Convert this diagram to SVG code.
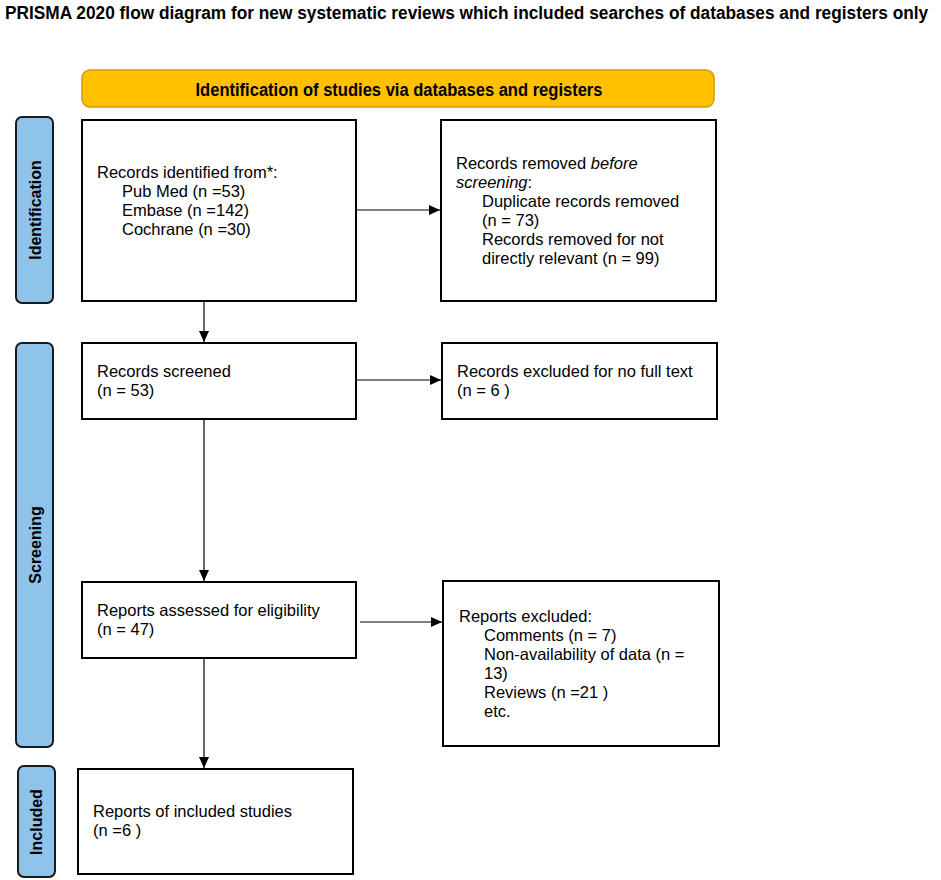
<svg xmlns="http://www.w3.org/2000/svg" width="941" height="880" viewBox="0 0 941 880">
<style>
.box{fill:#fff;stroke:#000;stroke-width:2}
.side{fill:#8FC3EA;stroke:#1a1a1a;stroke-width:2}
.t{font-family:"Liberation Sans",Arial,sans-serif;font-size:16.5px;fill:#000}
.sl{font-family:"Liberation Sans",Arial,sans-serif;font-size:16px;font-weight:bold;fill:#000;text-anchor:middle}
.c{stroke:#000;stroke-width:1.2;fill:none;marker-end:url(#ah)}
</style>
<defs>
<marker id="ah" markerUnits="userSpaceOnUse" markerWidth="12" markerHeight="12" refX="11" refY="5" orient="auto">
<path d="M0,0 L11,5 L0,10 z" fill="#000"/>
</marker>
</defs>
<rect width="941" height="880" fill="#fff"/>
<text id="title" transform="translate(5,19) scale(0.935,1)" x="0" y="0" font-family="Liberation Sans, Arial, sans-serif" font-size="18.5" font-weight="bold">PRISMA 2020 flow diagram for new systematic reviews which included searches of databases and registers only</text>

<g id="banner">
<rect x="82" y="70" width="632" height="37" rx="8" fill="#FFC000" stroke="#D39B00" stroke-width="1.5"/>
<text x="399" y="95.5" font-family="Liberation Sans, Arial, sans-serif" font-size="17.5" font-weight="bold" text-anchor="middle" textLength="407" lengthAdjust="spacingAndGlyphs">Identification of studies via databases and registers</text>
</g>

<g id="lbl-identification">
<rect class="side" x="16" y="117" width="37" height="186" rx="6"/>
<text class="sl" transform="translate(41,210) rotate(-90)">Identification</text>
</g>
<g id="lbl-screening">
<rect class="side" x="16" y="343" width="37" height="404" rx="6"/>
<text class="sl" transform="translate(41,545) rotate(-90)">Screening</text>
</g>
<g id="lbl-included">
<rect class="side" x="18" y="766" width="37" height="111" rx="6"/>
<text class="sl" transform="translate(42,822) rotate(-90)">Included</text>
</g>

<g id="n-identified">
<rect class="box" x="82" y="120" width="274" height="181"/>
<text class="t" x="97" y="178">Records identified from*:</text>
<text class="t" x="122" y="197">Pub Med (n =53)</text>
<text class="t" x="122" y="216">Embase (n =142)</text>
<text class="t" x="122" y="235">Cochrane (n =30)</text>
</g>
<g id="n-removed">
<rect class="box" x="441" y="120" width="275" height="181"/>
<text class="t" x="456" y="169">Records removed <tspan font-style="italic">before</tspan></text>
<text class="t" x="456" y="188"><tspan font-style="italic">screening</tspan>:</text>
<text class="t" x="482" y="207">Duplicate records removed</text>
<text class="t" x="482" y="226">(n = 73)</text>
<text class="t" x="482" y="245">Records removed for not</text>
<text class="t" x="482" y="264">directly relevant (n = 99)</text>
</g>
<g id="n-screened">
<rect class="box" x="82" y="343" width="274" height="76"/>
<text class="t" x="97" y="377">Records screened</text>
<text class="t" x="97" y="396">(n = 53)</text>
</g>
<g id="n-excluded1">
<rect class="box" x="442" y="343" width="275" height="76"/>
<text class="t" x="457" y="377">Records excluded for no full text</text>
<text class="t" x="457" y="396">(n = 6 )</text>
</g>
<g id="n-assessed">
<rect class="box" x="82" y="582" width="274" height="76"/>
<text class="t" x="97" y="616">Reports assessed for eligibility</text>
<text class="t" x="97" y="635">(n = 47)</text>
</g>
<g id="n-excluded2">
<rect class="box" x="443" y="581" width="276" height="165"/>
<text class="t" x="459" y="622">Reports excluded:</text>
<text class="t" x="484" y="641">Comments (n = 7)</text>
<text class="t" x="484" y="660">Non-availability of data (n =</text>
<text class="t" x="484" y="679">13)</text>
<text class="t" x="484" y="698">Reviews (n =21 )</text>
<text class="t" x="484" y="717">etc.</text>
</g>
<g id="n-included">
<rect class="box" x="78" y="769" width="275" height="105"/>
<text class="t" x="93" y="817">Reports of included studies</text>
<text class="t" x="93" y="836">(n =6 )</text>
</g>

<g id="connectors">
<line class="c" x1="356" y1="210" x2="440" y2="210"/>
<line class="c" x1="204" y1="301" x2="204" y2="342"/>
<line class="c" x1="356" y1="380" x2="441" y2="380"/>
<line class="c" x1="204" y1="419" x2="204" y2="581"/>
<line class="c" x1="360" y1="622" x2="442" y2="622"/>
<line class="c" x1="204" y1="658" x2="204" y2="768"/>
</g>
</svg>
